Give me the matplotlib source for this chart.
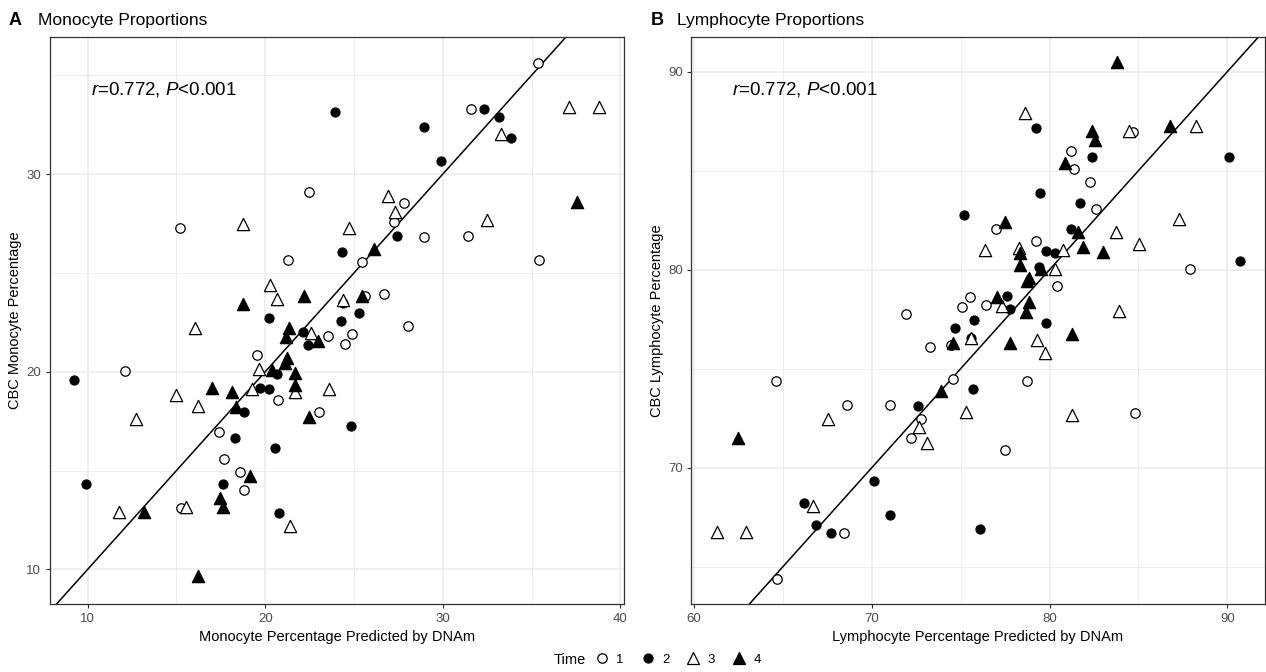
import matplotlib
matplotlib.use("Agg")
import matplotlib.pyplot as plt
from matplotlib.lines import Line2D
from matplotlib.ticker import MultipleLocator

plt.rcParams["font.family"] = ["Liberation Sans", "DejaVu Sans"]
plt.rcParams["mathtext.fontset"] = "custom"
plt.rcParams["mathtext.it"] = "Liberation Sans:italic"
plt.rcParams["mathtext.rm"] = "Liberation Sans"

# Panel A: monocytes (x = predicted by DNAm, y = CBC)
mono_t1_x = [35.33, 31.58, 22.48, 15.18, 21.28, 25.44, 27.82, 27.24, 28.93, 31.41, 35.43, 25.62, 26.71,
             28.06, 23.56, 24.5, 24.89, 19.56, 20.74, 12.08, 23.03, 17.38, 17.7, 18.6, 18.82, 15.26]
mono_t1_y = [35.64, 33.31, 29.09, 27.25, 25.64, 25.56, 28.52, 27.56, 26.82, 26.85, 25.66, 23.82, 23.94,
             22.3, 21.8, 21.41, 21.9, 20.86, 18.55, 20.03, 17.96, 16.95, 15.57, 14.93, 14.02, 13.08]
mono_t2_x = [23.92, 32.31, 33.15, 33.83, 28.96, 29.9, 27.41, 24.34, 24.36, 25.3, 24.25, 20.19, 22.15,
             22.39, 20.65, 19.72, 20.19, 18.82, 9.25, 24.82, 18.3, 20.55, 17.61, 20.78, 9.89]
mono_t2_y = [33.15, 33.31, 32.89, 31.8, 32.4, 30.67, 26.88, 26.04, 23.45, 22.98, 22.56, 22.71, 22.02,
             21.33, 19.88, 19.17, 19.11, 17.96, 19.58, 17.25, 16.65, 16.16, 14.31, 12.84, 14.31]
mono_t3_x = [18.75, 24.7, 20.25, 20.66, 24.4, 33.3, 37.1, 38.77, 26.9, 27.31, 32.48, 22.56, 19.65,
             21.68, 19.27, 23.58, 14.96, 16.23, 12.74, 16.05, 15.52, 11.78, 21.38]
mono_t3_y = [27.49, 27.29, 24.37, 23.69, 23.62, 32.04, 33.38, 33.38, 28.9, 28.06, 27.69, 21.97, 20.12,
             18.97, 19.11, 19.11, 18.82, 18.26, 17.59, 22.19, 13.13, 12.88, 12.2]
mono_t4_x = [22.17, 18.75, 37.53, 26.13, 25.44, 21.36, 22.96, 21.17, 21.21, 21.1, 20.38, 21.68, 21.68,
             17.02, 18.11, 18.36, 22.48, 19.14, 17.45, 17.61, 13.19, 16.23]
mono_t4_y = [23.82, 23.4, 28.6, 26.21, 23.85, 22.22, 21.55, 21.77, 20.71, 20.45, 20.08, 19.91, 19.31,
             19.19, 18.97, 18.23, 17.73, 14.73, 13.59, 13.13, 12.88, 9.65]

# Panel B: lymphocytes
lymph_t1_x = [75.51, 75.1, 76.4, 71.95, 84.7, 81.18, 81.39, 82.29, 82.61, 76.98, 79.25, 87.9, 80.43,
              78.71, 84.82, 77.5, 74.45, 73.3, 64.6, 74.58, 68.59, 71.05, 72.77, 72.19, 68.41, 64.67]
lymph_t1_y = [78.64, 78.13, 78.22, 77.76, 86.95, 86.01, 85.09, 84.43, 83.07, 82.04, 81.46, 80.02, 79.18,
              74.38, 72.75, 70.91, 76.2, 76.1, 74.38, 74.48, 73.15, 73.18, 72.46, 71.52, 66.7, 64.36]
lymph_t2_x = [75.18, 75.74, 74.71, 79.23, 90.09, 82.4, 79.45, 81.71, 81.18, 79.81, 80.28, 90.73, 79.38,
              77.61, 77.77, 79.79, 75.61, 75.67, 76.08, 72.59, 70.1, 71.01, 66.17, 66.87, 67.69]
lymph_t2_y = [82.76, 77.46, 77.07, 87.14, 85.71, 85.71, 83.86, 83.35, 82.04, 80.94, 80.86, 80.45, 80.12,
              78.69, 78.0, 77.29, 76.57, 73.97, 66.89, 73.12, 69.33, 67.6, 68.23, 67.09, 66.7]
lymph_t3_x = [76.36, 78.63, 84.46, 88.22, 87.26, 83.75, 85.03, 78.31, 80.73, 80.32, 77.32, 83.92, 79.32,
              79.72, 75.61, 75.29, 81.24, 67.56, 72.68, 73.11, 66.7, 61.28, 62.95]
lymph_t3_y = [81.0, 87.93, 87.02, 87.27, 82.55, 81.9, 81.31, 81.08, 81.0, 80.02, 78.18, 77.91, 76.45,
              75.78, 76.53, 72.83, 72.66, 72.46, 72.07, 71.26, 68.08, 66.77, 66.77]
lymph_t4_x = [83.77, 82.4, 82.55, 86.77, 80.86, 77.52, 81.59, 78.33, 81.89, 82.98, 78.35, 79.53, 78.85,
              78.74, 77.07, 78.85, 78.65, 81.24, 77.8, 74.58, 73.92, 62.5]
lymph_t4_y = [90.5, 87.02, 86.55, 87.26, 85.37, 82.41, 81.89, 80.86, 81.16, 80.91, 80.24, 80.03, 79.57,
              79.44, 78.64, 78.38, 77.85, 76.75, 76.31, 76.28, 73.89, 71.52]

times = ["1", "2", "3", "4"]
stat_text = r"$r$=0.772, $P$<0.001"

# marker, facecolor, size for each time point
styles = [("o", "white", 46), ("o", "black", 42), ("^", "white", 78), ("^", "black", 78)]


def draw_panel(ax, series, xlim, ylim, xmajor, ymajor, xlabel, ylabel):
    for (x, y), (m, fc, s) in zip(series, styles):
        ax.scatter(x, y, marker=m, s=s, facecolors=fc, edgecolors="black", linewidths=0.9, zorder=3)
    # identity line
    ax.axline((0, 0), slope=1, color="black", lw=1.1, zorder=2)
    ax.set_xlim(xlim)
    ax.set_ylim(ylim)
    ax.xaxis.set_major_locator(MultipleLocator(xmajor))
    ax.yaxis.set_major_locator(MultipleLocator(ymajor))
    ax.xaxis.set_minor_locator(MultipleLocator(xmajor / 2))
    ax.yaxis.set_minor_locator(MultipleLocator(ymajor / 2))
    ax.grid(which="major", color="#ebebeb", lw=1.1)
    ax.grid(which="minor", color="#ebebeb", lw=0.6)
    ax.set_axisbelow(True)
    ax.tick_params(which="major", length=3, width=0.8, color="#333333", labelcolor="#4d4d4d",
                   labelsize=9.5, pad=3)
    ax.tick_params(which="minor", length=0)
    for sp in ax.spines.values():
        sp.set_color("#333333")
        sp.set_linewidth(0.9)
    ax.set_xlabel(xlabel, fontsize=10.5, labelpad=4)
    ax.set_ylabel(ylabel, fontsize=10.5, labelpad=3)
    ax.text(0.072, 0.907, stat_text, transform=ax.transAxes, fontsize=13.5, va="center", ha="left")


fig = plt.figure(figsize=(12.66, 6.72), dpi=100)
ax1 = fig.add_axes([0.0391, 0.1007, 0.4538, 0.8442])
ax2 = fig.add_axes([0.5458, 0.1007, 0.4534, 0.8442])

draw_panel(ax1, [(mono_t1_x, mono_t1_y), (mono_t2_x, mono_t2_y), (mono_t3_x, mono_t3_y), (mono_t4_x, mono_t4_y)],
           (7.85, 40.2), (8.23, 36.93), 10, 10,
           "Monocyte Percentage Predicted by DNAm", "CBC Monocyte Percentage")
draw_panel(ax2, [(lymph_t1_x, lymph_t1_y), (lymph_t2_x, lymph_t2_y), (lymph_t3_x, lymph_t3_y), (lymph_t4_x, lymph_t4_y)],
           (59.83, 92.12), (63.1, 91.75), 10, 10,
           "Lymphocyte Percentage Predicted by DNAm", "CBC Lymphocyte Percentage")

fig.text(0.0065, 0.97, "A", fontsize=13, fontweight="bold", va="center")
fig.text(0.030, 0.97, "Monocyte Proportions", fontsize=12.5, va="center")
fig.text(0.514, 0.97, "B", fontsize=13, fontweight="bold", va="center")
fig.text(0.535, 0.97, "Lymphocyte Proportions", fontsize=12.5, va="center")

handles = [Line2D([], [], linestyle="none", marker=m, markerfacecolor=fc, markeredgecolor="black",
                  markeredgewidth=0.9, markersize=(s ** 0.5)) for m, fc, s in styles]
fig.text(0.437, 0.018, "Time", fontsize=10.5, va="center")
fig.legend(handles, times, loc="center", bbox_to_anchor=(0.535, 0.018), ncol=4, frameon=False,
           fontsize=9.5, handletextpad=0.5, columnspacing=1.2, handlelength=1.2, borderpad=0)

fig.savefig("out.png", dpi=100)
